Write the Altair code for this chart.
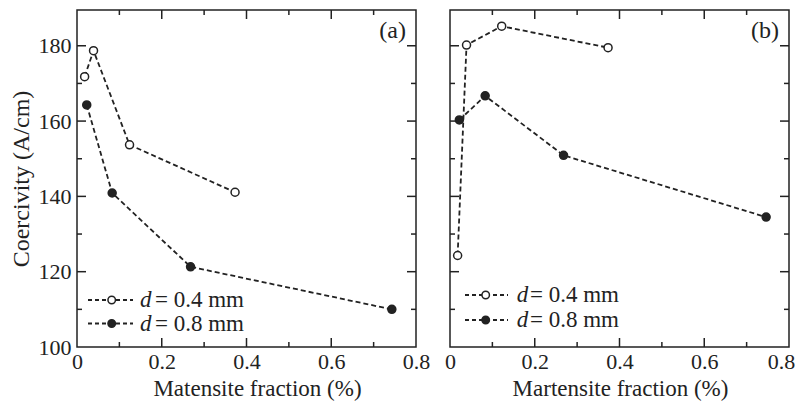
import altair as alt
import pandas as pd

# ---------------- data ----------------
SERIES = ["d = 0.4 mm", "d = 0.8 mm"]
LEGEND_REST = ["= 0.4 mm", "= 0.8 mm"]

# panel (a)
xa_04 = [0.018, 0.039, 0.124, 0.373]
ya_04 = [171.8, 178.7, 153.7, 141.1]
xa_08 = [0.023, 0.083, 0.268, 0.743]
ya_08 = [164.3, 140.9, 121.3, 110.0]

# panel (b)
xb_04 = [0.018, 0.039, 0.122, 0.373]
yb_04 = [124.3, 180.2, 185.2, 179.5]
xb_08 = [0.022, 0.083, 0.268, 0.746]
yb_08 = [160.3, 166.7, 150.9, 134.5]

X_LABEL_TICKS = [0, 0.2, 0.4, 0.6, 0.8]
X_MAJOR = [0.2, 0.4, 0.6]
X_MINOR = [0.1, 0.3, 0.5, 0.7]
Y_LABEL_TICKS = [100, 120, 140, 160, 180]
Y_MAJOR = [120, 140, 160, 180]
Y_MINOR = [110, 130, 150, 170]

PANEL_LABELS = ["(a)", "(b)"]
X_TITLES = ["Matensite fraction (%)", "Martensite fraction (%)"]
Y_TITLE = "Coercivity (A/cm)"

# ---------------- style ----------------
W, H = 339, 337
INK = "#222222"
FONT = "Liberation Serif"
FS_LAB = 22
FS_TIT = 23
FS_TXT = 23
X_DOMAIN = [0, 0.8]
Y_DOMAIN = [100, 189.5]
DASH = [5, 3]


def frame_df(xs, ys, name):
    return pd.DataFrame({"x": xs, "y": ys, "series": name})


def panel(d04, d08, xtitle, plabel, show_y, leg, title_x, last_shift):
    leg_x0, leg_mk, leg_x1, leg_d, leg_eq, leg_y0, leg_y1 = leg
    df = pd.concat([frame_df(*d04, SERIES[0]), frame_df(*d08, SERIES[1])])
    xs = alt.Scale(domain=X_DOMAIN, nice=False, zero=False)
    ys = alt.Scale(domain=Y_DOMAIN, nice=False, zero=False)
    xaxis = alt.Axis(values=X_LABEL_TICKS, title=xtitle, ticks=False, domain=False,
                     grid=False, labelFlush=False, labelPadding=4,
                     labelOffset={"condition": {"test": "datum.value > 0.79",
                                                "value": last_shift}, "value": 0},
                     titleX=title_x, titleY=48, titleBaseline="alphabetic",
                     labelFont=FONT, titleFont=FONT, labelFontSize=FS_LAB,
                     titleFontSize=FS_TIT, labelColor=INK, titleColor=INK,
                     titleFontWeight="normal",
                     labelExpr="datum.value == 0 ? '0' : format(datum.value, '.1f')")
    if show_y:
        yaxis = alt.Axis(values=Y_LABEL_TICKS, title=Y_TITLE, ticks=False, domain=False,
                         grid=False, labelPadding=6, titlePadding=5,
                         labelFont=FONT, titleFont=FONT, labelFontSize=FS_LAB,
                         titleFontSize=24, labelColor=INK, titleColor=INK,
                         titleFontWeight="normal")
    else:
        yaxis = None
    base = alt.Chart(df)
    line = base.mark_line(color=INK, strokeDash=DASH, strokeWidth=1.8).encode(
        x=alt.X("x:Q", scale=xs, axis=xaxis),
        y=alt.Y("y:Q", scale=ys, axis=yaxis),
        detail="series:N",
    )
    pts = base.mark_point(shape="circle", size=64, filled=True, strokeWidth=1.5,
                          opacity=1).encode(
        x="x:Q", y="y:Q",
        fill=alt.Fill("series:N", scale=alt.Scale(domain=SERIES, range=["white", INK]),
                      legend=None),
        stroke=alt.value(INK),
    )
    layers = [line, pts]

    # inner ticks on all four sides
    def xt(vals, L):
        c = alt.Chart(pd.DataFrame({"v": vals}))
        bot = c.mark_rule(color=INK, strokeWidth=1.5).encode(
            x="v:Q", y=alt.value(H), y2=alt.value(H - L))
        top = c.mark_rule(color=INK, strokeWidth=1.5).encode(
            x="v:Q", y=alt.value(0), y2=alt.value(L))
        return [bot, top]

    def yt(vals, L):
        c = alt.Chart(pd.DataFrame({"v": vals}))
        lft = c.mark_rule(color=INK, strokeWidth=1.5).encode(
            y="v:Q", x=alt.value(0), x2=alt.value(L))
        rgt = c.mark_rule(color=INK, strokeWidth=1.5).encode(
            y="v:Q", x=alt.value(W), x2=alt.value(W - L))
        return [lft, rgt]

    layers += xt(X_MAJOR, 9) + xt(X_MINOR, 5) + yt(Y_MAJOR, 9) + yt(Y_MINOR, 5)

    # panel label
    lab = alt.Chart(pd.DataFrame({"t": [plabel]})).mark_text(
        font=FONT, fontSize=24, color=INK, align="right", baseline="middle").encode(
        text="t:N", x=alt.value(W - 10), y=alt.value(21))
    layers.append(lab)

    # legend (manual, to allow italic d)
    for yy, rest, fill in zip([leg_y0, leg_y1], LEGEND_REST, ["white", INK]):
        c = alt.Chart(pd.DataFrame({"t": [rest], "d": ["d"]}))
        layers.append(c.mark_rule(color=INK, strokeDash=[4, 3], strokeWidth=1.8).encode(
            x=alt.value(leg_x0), x2=alt.value(leg_x1), y=alt.value(yy)))
        layers.append(c.mark_point(shape="circle", size=56, filled=True, fill=fill,
                                   stroke=INK, strokeWidth=1.5, opacity=1).encode(
            x=alt.value(leg_mk), y=alt.value(yy)))
        layers.append(c.mark_text(font=FONT, fontSize=FS_TXT, fontStyle="italic",
                                  color=INK, align="left", baseline="middle").encode(
            text="d:N", x=alt.value(leg_d), y=alt.value(yy)))
        layers.append(c.mark_text(font=FONT, fontSize=FS_TXT, color=INK,
                                  align="left", baseline="middle").encode(
            text="t:N", x=alt.value(leg_eq), y=alt.value(yy)))

    return alt.layer(*layers).properties(width=W, height=H)


left = panel((xa_04, ya_04), (xa_08, ya_08), X_TITLES[0], PANEL_LABELS[0], True,
             (11, 34.7, 56, 63, 78, 290, 313.5), 180, 0)
right = panel((xb_04, yb_04), (xb_08, yb_08), X_TITLES[1], PANEL_LABELS[1], False,
              (15, 35.7, 58, 66.7, 80, 285, 310), 170, -8)

chart = alt.hconcat(left, right, spacing=34, bounds="flush").properties(
    autosize=alt.AutoSizeParams(type="none"),
    padding={"left": 69, "top": 2, "right": 787 - 69, "bottom": 390},
).configure_view(stroke=INK, strokeWidth=1.5).configure_axis(
    labelFont=FONT, labelFontSize=FS_LAB, labelColor=INK,
    titleFont=FONT, titleFontSize=FS_TIT, titleColor=INK, titleFontWeight="normal",
).configure_text(font=FONT)

chart.save("out.html", embed_options={"renderer": "svg", "actions": False})
